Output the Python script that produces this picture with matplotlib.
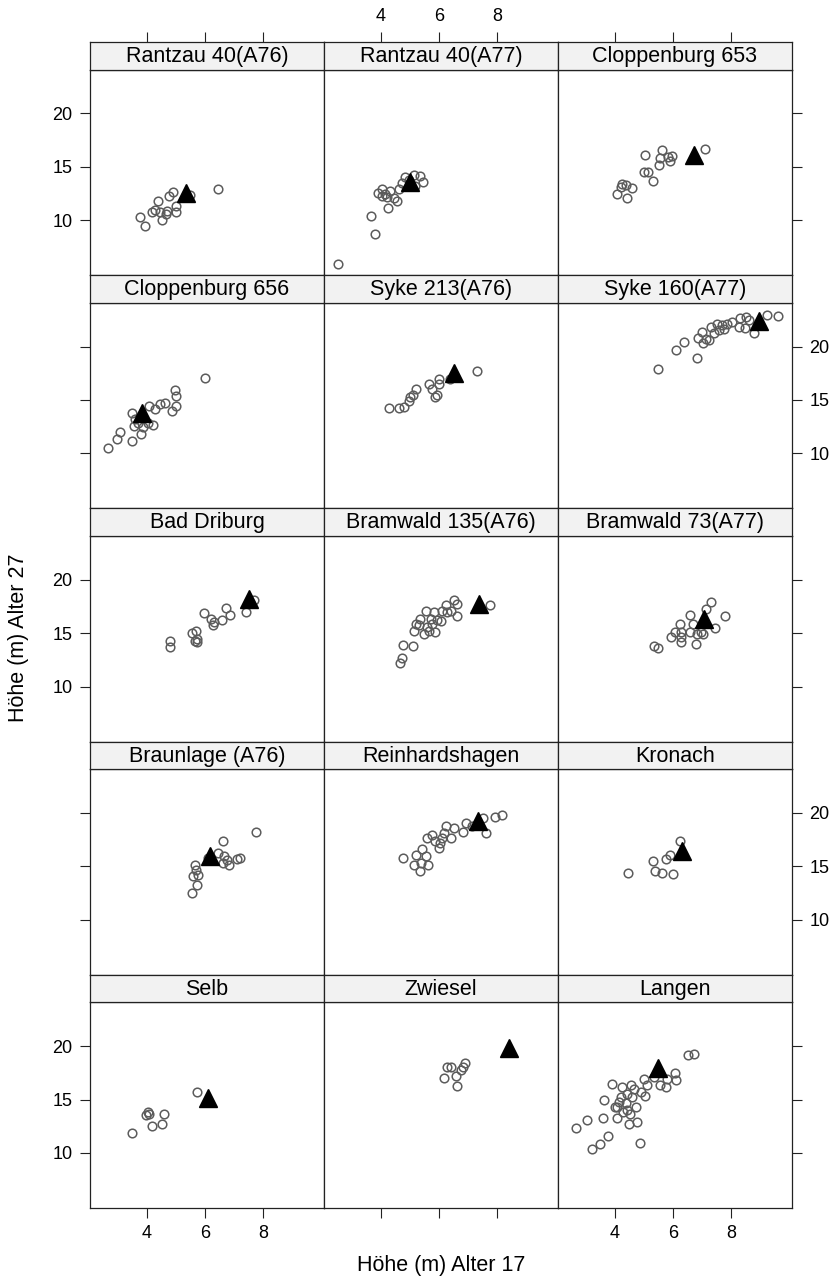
import matplotlib.pyplot as plt

plt.rcParams['font.family'] = ['Liberation Sans', 'DejaVu Sans']

# Panel titles (row by row, left to right)
titles = ['Rantzau 40(A76)', 'Rantzau 40(A77)', 'Cloppenburg 653',
          'Cloppenburg 656', 'Syke 213(A76)', 'Syke 160(A77)',
          'Bad Driburg', 'Bramwald 135(A76)', 'Bramwald 73(A77)',
          'Braunlage (A76)', 'Reinhardshagen', 'Kronach',
          'Selb', 'Zwiesel', 'Langen']

# Height at age 17 (x) and age 27 (y) per provenance, plus the mean (triangle)
rantzau76_x = [3.76, 3.94, 4.17, 4.29, 4.39, 4.43, 4.52, 4.64, 4.68, 4.75, 4.89, 5.00, 5.00, 5.47, 6.45]
rantzau76_y = [10.25, 9.44, 10.72, 10.94, 11.75, 10.72, 10.06, 10.56, 10.88, 12.28, 12.60, 11.34, 10.80, 12.40, 12.90]
rantzau76_tri = (5.35, 12.5)

rantzau77_x = [2.53, 3.80, 3.64, 4.25, 4.54, 3.91, 4.02, 4.14, 4.31, 4.43, 4.60, 4.72, 4.83, 5.12, 5.33, 5.45, 5.18, 4.05, 4.20, 4.95]
rantzau77_y = [5.94, 8.75, 10.38, 11.13, 11.81, 12.50, 12.90, 12.44, 12.75, 12.10, 12.90, 13.50, 14.00, 14.25, 14.16, 13.53, 13.20, 12.30, 12.20, 13.80]
rantzau77_tri = (4.98, 13.53)

clopp653_x = [4.06, 4.42, 4.59, 4.25, 4.37, 4.19, 4.99, 5.13, 5.31, 5.02, 5.51, 5.54, 5.63, 5.83, 5.89, 5.94, 7.10]
clopp653_y = [12.44, 12.06, 12.97, 13.38, 13.28, 13.06, 14.47, 14.47, 13.63, 16.13, 15.19, 15.81, 16.59, 15.88, 15.50, 16.03, 16.69]
clopp653_tri = (6.73, 16.13)

clopp656_x = [2.66, 2.98, 3.06, 3.47, 3.50, 3.56, 3.60, 3.68, 3.79, 3.87, 4.02, 4.06, 4.22, 4.29, 4.43, 4.60, 4.87, 5.01, 5.01, 4.97, 5.99]
clopp656_y = [10.47, 11.34, 11.97, 11.13, 13.75, 12.59, 13.22, 12.81, 11.81, 12.50, 12.81, 14.47, 12.69, 14.16, 14.63, 14.69, 14.00, 14.47, 15.41, 15.94, 17.03]
clopp656_tri = (3.83, 13.75)

syke213_x = [4.28, 4.62, 4.80, 4.95, 5.01, 5.10, 5.20, 5.64, 5.76, 5.87, 5.91, 5.99, 5.99, 6.37, 7.28]
syke213_y = [14.22, 14.22, 14.31, 14.94, 15.31, 15.50, 16.03, 16.50, 16.03, 15.25, 15.50, 16.50, 16.97, 16.97, 17.69]
syke213_tri = (6.49, 17.53)

syke160_x = [5.47, 6.10, 6.37, 6.83, 6.85, 7.00, 7.03, 7.11, 7.22, 7.30, 7.39, 7.51, 7.57, 7.68, 7.76, 7.83, 8.02, 8.25, 8.31, 8.45, 8.51, 8.59, 8.77, 9.22, 9.59]
syke160_y = [17.94, 19.63, 20.38, 18.91, 20.81, 21.34, 20.31, 20.72, 20.63, 21.81, 21.25, 22.13, 21.50, 21.97, 21.66, 22.13, 22.28, 21.81, 22.66, 21.75, 22.75, 22.50, 21.25, 22.91, 22.84]
syke160_tri = (8.94, 22.38)

driburg_x = [4.80, 4.80, 5.53, 5.68, 5.64, 5.72, 5.70, 5.95, 6.20, 6.25, 6.30, 6.57, 6.72, 6.86, 7.40, 7.66]
driburg_y = [14.22, 13.69, 15.03, 15.16, 14.31, 14.16, 14.47, 16.91, 16.34, 15.72, 16.03, 16.19, 17.34, 16.66, 16.97, 18.06]
driburg_tri = (7.49, 18.22)

bramwald135_x = [4.66, 4.72, 4.77, 5.10, 5.12, 5.21, 5.33, 5.47, 5.53, 5.58, 5.64, 5.70, 5.82, 5.87, 5.91, 6.05, 6.10, 6.22, 6.28, 6.39, 6.51, 6.60, 6.60, 5.29, 5.76, 7.76]
bramwald135_y = [12.22, 12.66, 13.91, 13.78, 15.16, 15.88, 16.34, 14.94, 17.03, 15.56, 15.16, 16.34, 16.97, 15.09, 16.19, 16.09, 17.03, 17.59, 16.97, 17.03, 18.06, 17.75, 16.59, 15.72, 15.88, 17.66]
bramwald135_tri = (7.38, 17.75)

bramwald73_x = [5.34, 5.49, 5.93, 6.05, 6.23, 6.25, 6.27, 6.25, 6.56, 6.59, 6.69, 6.77, 6.82, 6.94, 7.03, 7.13, 7.30, 7.42, 7.77]
bramwald73_y = [13.82, 13.63, 14.66, 15.12, 15.84, 15.12, 14.19, 14.60, 16.68, 15.06, 15.84, 13.98, 14.90, 15.06, 14.90, 17.24, 17.92, 15.47, 16.61]
bramwald73_tri = (7.05, 16.30)

braunlage_x = [5.56, 5.72, 5.58, 5.76, 5.68, 5.64, 6.10, 6.45, 6.60, 6.65, 6.74, 6.83, 7.09, 7.18, 7.76, 6.62]
braunlage_y = [12.50, 13.28, 14.06, 14.16, 14.69, 15.09, 15.78, 16.25, 17.34, 15.94, 15.63, 15.09, 15.72, 15.78, 18.19, 15.31]
braunlage_tri = (6.16, 15.94)

reinhard_x = [4.75, 5.12, 5.21, 5.35, 5.37, 5.40, 5.56, 5.60, 5.58, 5.76, 5.87, 5.99, 6.02, 6.10, 6.16, 6.22, 6.42, 6.49, 6.83, 6.91, 7.14, 7.49, 7.61, 7.90, 8.15]
reinhard_y = [15.78, 15.09, 16.03, 14.59, 15.31, 16.66, 15.94, 15.16, 17.66, 17.97, 17.34, 16.72, 17.19, 17.66, 18.13, 18.75, 17.66, 18.59, 18.22, 19.06, 18.75, 19.53, 18.13, 19.59, 19.84]
reinhard_tri = (7.32, 19.28)

kronach_x = [4.45, 5.29, 5.36, 5.60, 5.74, 5.89, 5.98, 6.23]
kronach_y = [14.38, 15.53, 14.59, 14.38, 15.72, 16.09, 14.28, 17.34]
kronach_tri = (6.31, 16.41)

selb_x = [3.50, 3.97, 4.02, 4.08, 4.17, 4.52, 4.58, 5.70]
selb_y = [11.88, 13.53, 13.84, 13.63, 12.50, 12.69, 13.63, 15.69]
selb_tri = (6.10, 15.19)

zwiesel_x = [6.16, 6.28, 6.39, 6.57, 6.61, 6.74, 6.80, 6.88]
zwiesel_y = [17.03, 18.06, 18.06, 17.19, 16.25, 17.75, 18.06, 18.38]
zwiesel_tri = (8.38, 19.84)

langen_x = [2.67, 3.02, 3.22, 3.47, 3.76, 3.57, 3.62, 3.91, 3.99, 4.08, 4.14, 4.19, 4.25, 4.29, 4.37, 4.42, 4.48, 4.51, 4.56,
            4.59, 4.65, 4.71, 4.77, 4.85, 4.88, 4.99, 5.02, 5.09, 5.34, 5.54, 5.74, 5.79, 6.05, 6.08, 6.50, 6.73, 4.06, 4.40]
langen_y = [12.34, 13.06, 10.41, 10.81, 11.56, 13.31, 15.00, 16.50, 14.31, 13.28, 14.78, 15.25, 16.19, 13.84, 14.63, 15.56, 12.75, 13.69, 16.34,
            15.25, 16.03, 14.31, 12.91, 10.97, 15.72, 16.91, 15.31, 16.34, 17.13, 16.34, 16.19, 16.88, 17.50, 16.81, 19.16, 19.22, 14.31, 14.00]
langen_tri = (5.47, 17.91)

xs = [rantzau76_x, rantzau77_x, clopp653_x, clopp656_x, syke213_x, syke160_x,
      driburg_x, bramwald135_x, bramwald73_x, braunlage_x, reinhard_x, kronach_x,
      selb_x, zwiesel_x, langen_x]
ys = [rantzau76_y, rantzau77_y, clopp653_y, clopp656_y, syke213_y, syke160_y,
      driburg_y, bramwald135_y, bramwald73_y, braunlage_y, reinhard_y, kronach_y,
      selb_y, zwiesel_y, langen_y]
tris = [rantzau76_tri, rantzau77_tri, clopp653_tri, clopp656_tri, syke213_tri, syke160_tri,
        driburg_tri, bramwald135_tri, bramwald73_tri, braunlage_tri, reinhard_tri, kronach_tri,
        selb_tri, zwiesel_tri, langen_tri]

xticks = [4, 6, 8]
yticks = [10, 15, 20]

# layout in pixels
W, H = 837, 1287
left = 90
col_w = 234
top = 42
row_h = 233.2
strip_h = 27.5
panel_h = row_h - strip_h

fig = plt.figure(figsize=(W / 100, H / 100), dpi=100)

tick_kw = dict(direction='out', length=7.5, width=0.8, color='#222222',
               labelsize=13, pad=5)

for i in range(15):
    r, c = divmod(i, 3)
    x0 = left + c * col_w
    y_panel = top + r * row_h + strip_h

    ax = fig.add_axes([x0 / W, 1 - (y_panel + panel_h) / H, col_w / W, panel_h / H])
    ax.plot(xs[i], ys[i], 'o', ms=6.2, mfc='none', mec='#5c5c5c', mew=1.1)
    ax.plot(tris[i][0], tris[i][1], '^', ms=12.5, color='black')
    ax.set_xlim(2.04, 10.08)
    ax.set_ylim(4.85, 24.1)
    ax.set_xticks(xticks)
    ax.set_yticks(yticks)
    ax.tick_params(**tick_kw)
    ax.tick_params(bottom=(r == 4), labelbottom=(r == 4 and c != 1),
                   left=(c == 0), labelleft=(c == 0 and r % 2 == 0),
                   right=(c == 2), labelright=(c == 2 and r % 2 == 1),
                   top=False)
    for s in ax.spines.values():
        s.set_linewidth(0.9)
        s.set_color('#222222')

    # strip with panel title
    sax = fig.add_axes([x0 / W, 1 - y_panel / H, col_w / W, strip_h / H])
    sax.set_facecolor('#f2f2f2')
    sax.set_xlim(2.04, 10.08)
    sax.set_yticks([])
    if r == 0:
        sax.set_xticks(xticks)
        sax.tick_params(**tick_kw)
        sax.tick_params(top=True, labeltop=(c == 1), bottom=False, labelbottom=False)
    else:
        sax.set_xticks([])
    for s in sax.spines.values():
        s.set_linewidth(0.9)
        s.set_color('#222222')
    sax.text(0.5, 0.47, titles[i], transform=sax.transAxes, ha='center', va='center', fontsize=15.5)

fig.text((left + 1.5 * col_w) / W, 1 - 1265 / H, 'Höhe (m) Alter 17', ha='center', va='center', fontsize=15.5)
fig.text(19 / W, 1 - 638 / H, 'Höhe (m) Alter 27', ha='center', va='center', rotation=90, fontsize=15.5)

plt.savefig('out.png', dpi=100)
